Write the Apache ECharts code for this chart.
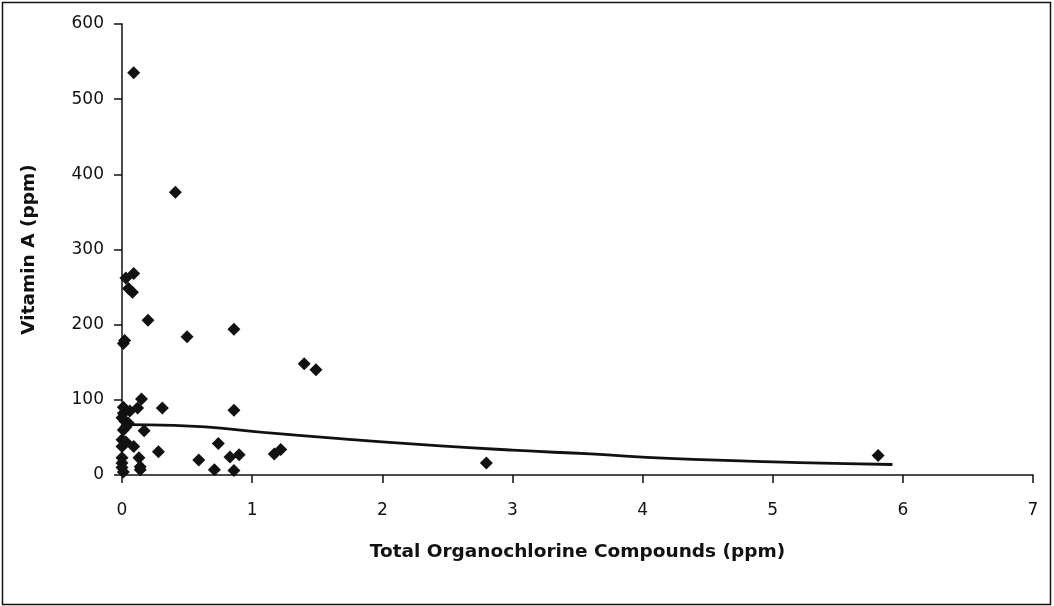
<!DOCTYPE html>
<html>
<head>
<meta charset="utf-8">
<script src="https://cdn.jsdelivr.net/npm/echarts@6/dist/echarts.min.js"></script>
<style>
html,body{margin:0;padding:0;background:#fff;}
#c{width:1054px;height:606px;}
</style>
</head>
<body>
<div id="c"></div>
<script>
// Scatter data: Total organochlorine (ppm) vs Vitamin A (ppm)
const organochlorine = [0.09,0.41,0.09,0.03,0.05,0.08,0.2,0.01,0.02,0.5,0.86,1.4,1.49,1.17,1.22,2.8,5.81,0.86,0.74,0.59,0.83,0.9,0.71,0.86,0.15,0.12,0.31,0.01,0.01,0.06,0.0,0.02,0.05,0.03,0.01,0.17,0.0,0.03,0.0,0.09,0.28,0.0,0.13,0.0,0.14,0.0,0.14,0.01];
const vitaminA = [535,376,268,262,248,243,206,175,179,184,194,148,140,28,34,16,26,86,42,20,24,27,7,6,101,89,89,90,82,85,76,72,69,64,60,59,47,44,38,38,31,23,23,16,11,10,7,4];
// Trend line
const trendX = [0.02,0.4,1.2,2.0,3.0,3.6,4.2,5.2,5.92];
const trendY = [67,66,55,44,33,28,22,16.5,14];
const xTicks = [0,1,2,3,4,5,6,7];
const yTicks = [0,100,200,300,400,500,600];

const chart = echarts.init(document.getElementById('c'));
const font = 'DejaVu Sans, Verdana, sans-serif';
chart.setOption({
  animation:false,
  backgroundColor:'#fff',
  graphic:[{type:'rect',shape:{x:2.5,y:2.5,width:1048,height:602},style:{fill:'none',stroke:'#111',lineWidth:1.5},silent:true}],
  grid:{left:122,right:21,top:24,bottom:131,containLabel:false},
  xAxis:{
    type:'value',min:xTicks[0],max:xTicks[xTicks.length-1],interval:1,
    name:'Total Organochlorine Compounds (ppm)',nameLocation:'middle',nameGap:68,
    nameTextStyle:{fontFamily:font,fontWeight:'bold',fontSize:18.5,color:'#111'},
    axisLine:{lineStyle:{color:'#111',width:1.5}},
    axisTick:{show:true,length:8,lineStyle:{color:'#111',width:1.5}},
    axisLabel:{fontFamily:font,fontSize:17,color:'#111',margin:27},
    splitLine:{show:false}
  },
  yAxis:{
    type:'value',min:yTicks[0],max:yTicks[yTicks.length-1],interval:100,
    name:'Vitamin A (ppm)',nameLocation:'middle',nameGap:83,nameRotate:90,
    nameTextStyle:{fontFamily:font,fontWeight:'bold',fontSize:18.5,color:'#111'},
    axisLine:{show:true,lineStyle:{color:'#111',width:1.5}},
    axisTick:{show:true,length:8,lineStyle:{color:'#111',width:1.5}},
    axisLabel:{fontFamily:font,fontSize:17,color:'#111',margin:18},
    splitLine:{show:false}
  },
  series:[
    {type:'line',data:trendX.map((x,i)=>[x,trendY[i]]),showSymbol:false,smooth:true,
     lineStyle:{color:'#111',width:2.8},z:2},
    {type:'scatter',data:organochlorine.map((x,i)=>[x,vitaminA[i]]),symbol:'diamond',symbolSize:13,
     itemStyle:{color:'#111',opacity:1},z:3}
  ]
});
</script>
</body>
</html>
